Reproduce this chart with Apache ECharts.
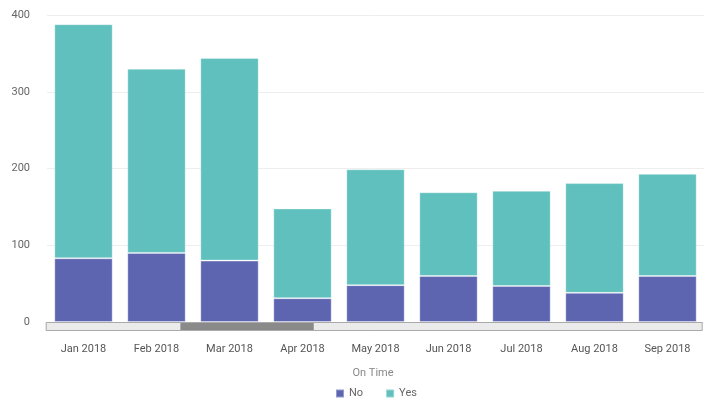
<!DOCTYPE html>
<html><head><meta charset="utf-8">
<script src="https://cdn.jsdelivr.net/npm/echarts@6/dist/echarts.min.js"></script>
<style>html,body{margin:0;padding:0;background:#fff}#c{width:720px;height:406px}</style>
</head><body><div id="c"></div>
<script>
const categories = ['Jan 2018','Feb 2018','Mar 2018','Apr 2018','May 2018','Jun 2018','Jul 2018','Aug 2018','Sep 2018'];
const noValues = [83, 90, 80, 31, 48, 60, 47, 38, 60];
const yesValues = [305, 240, 264, 117, 151, 109, 124, 143, 133];
const yTicks = [0, 100, 200, 300, 400];
const legendTitle = 'On Time';
const scrollWindow = [20.5, 40.8];

const chart = echarts.init(document.getElementById('c'));
const font = 'Roboto, "Noto Sans", sans-serif';
chart.setOption({
  animation: false,
  textStyle: { fontFamily: font },
  title: { text: legendTitle, left: 373, top: 368, textAlign: 'center', padding: 0,
    textStyle: { fontSize: 11, fontWeight: 'normal', color: '#888', fontFamily: font } },
  legend: { left: 335, top: 388, padding: 0, itemWidth: 8, itemHeight: 8, itemGap: 22, itemTextGap: 7, icon: 'rect',
    textStyle: { fontSize: 11, color: '#666', fontFamily: font },
    data: ['No', 'Yes'] },
  grid: { left: 47, right: 16, top: 15, bottom: 84 },
  xAxis: [{
    type: 'category', data: categories,
    axisLine: { show: false }, axisTick: { show: false },
    axisLabel: { color: '#555', fontSize: 11, margin: 22, fontFamily: font }
  }, {
    type: 'value', min: 0, max: 100, show: false
  }],
  yAxis: {
    type: 'value', min: yTicks[0], max: yTicks[yTicks.length - 1], interval: 100,
    axisLine: { show: false }, axisTick: { show: false },
    axisLabel: { color: '#666', fontSize: 11, margin: 17, fontFamily: font },
    splitLine: { lineStyle: { color: '#eeeeee' } }
  },
  graphic: [],
  dataZoom: [{
    type: 'slider', xAxisIndex: 1, start: scrollWindow[0], end: scrollWindow[1],
    left: 45, right: 18, top: 322, height: 9,
    backgroundColor: '#ebebeb', borderColor: '#aaaaaa', fillerColor: '#8a8a8a',
    handleSize: 0, handleStyle: { opacity: 0 }, moveHandleSize: 0,
    showDetail: false, showDataShadow: false, brushSelect: false,
    dataBackground: { lineStyle: { opacity: 0 }, areaStyle: { opacity: 0 } },
    selectedDataBackground: { lineStyle: { opacity: 0 }, areaStyle: { opacity: 0 } },
    emphasis: { handleStyle: { opacity: 0 } }
  }],
  series: [{
    name: 'No', type: 'bar', stack: 'a', data: noValues, barWidth: '80%',
    itemStyle: { color: '#5d65b1', borderColor: 'rgba(255,255,255,0.35)', borderWidth: 1 }
  }, {
    name: 'Yes', type: 'bar', stack: 'a', data: yesValues, barWidth: '80%',
    itemStyle: { color: '#5fc0bd', borderColor: 'rgba(255,255,255,0.35)', borderWidth: 1 }
  }]
});
</script></body></html>
